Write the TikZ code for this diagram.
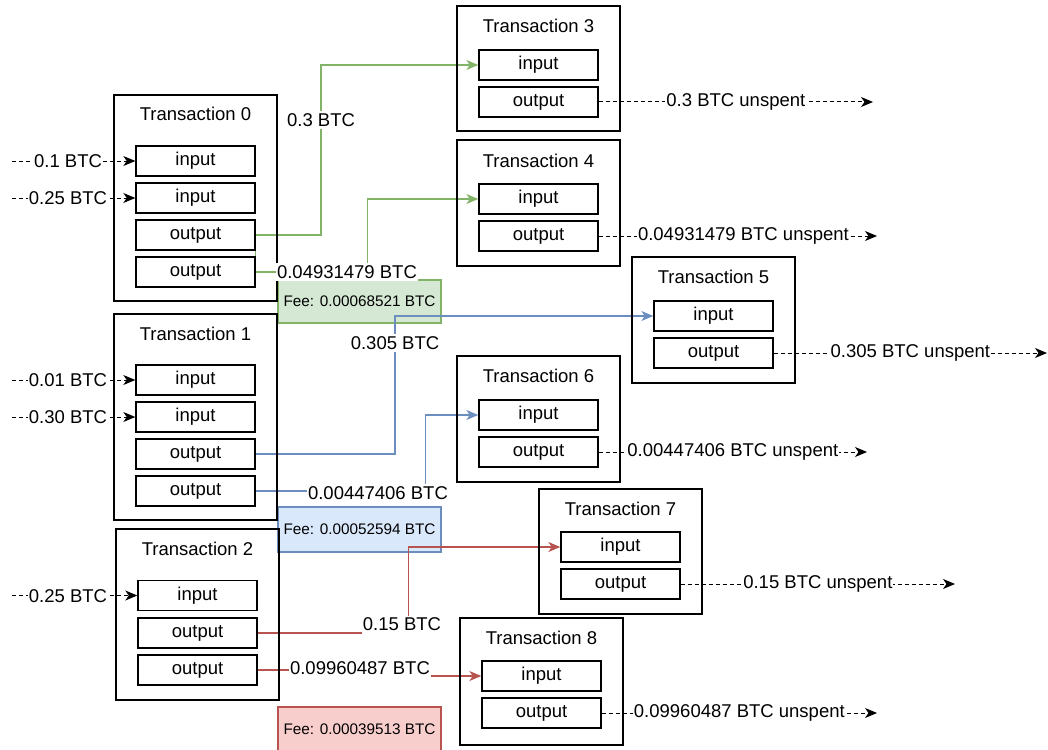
\documentclass[tikz,border=0pt]{standalone}
\usepackage{fontspec}
\setmainfont{Liberation Sans}
\usetikzlibrary{arrows.meta}
\definecolor{gedge}{HTML}{82B366}
\definecolor{gfill}{HTML}{D5E8D4}
\definecolor{bedge}{HTML}{6C8EBF}
\definecolor{bfill}{HTML}{DAE8FC}
\definecolor{redge}{HTML}{B85450}
\definecolor{rfill}{HTML}{F8CECC}
\pgfdeclarelayer{fees}
\pgfdeclarelayer{links}
\pgfsetlayers{fees,links,main}

\begin{document}
\begin{tikzpicture}[x=1pt,y=-1pt,
  every node/.style={font=\fontsize{18.5}{21}\selectfont, inner sep=0pt},
  txbox/.style={draw, line width=1.4pt, minimum width=163pt},
  slot/.style={draw, line width=1.4pt, minimum width=119pt, minimum height=30pt},
  feebox/.style={draw, line width=1.2pt, minimum width=163pt, font=\fontsize{15.3}{17}\selectfont},
  elabel/.style={fill=white, inner xsep=1pt, inner ysep=2pt},
  tip/.style={-{Stealth[length=12pt,width=10pt,inset=3.5pt]}},
  dline/.style={line width=1pt, dash pattern=on 4pt off 3pt, tip},
  gline/.style={draw=gedge, line width=1.3pt},
  bline/.style={draw=bedge, line width=1.3pt},
  rline/.style={draw=redge, line width=1.3pt},
]
\useasboundingbox (0,0) rectangle (1048,749);

% ---- Transaction 0
\node[txbox, minimum height=206pt] (t0) at (195.5,198) {};
\node (t0t) at (195.5,114) {Transaction 0};
\node[slot] (t0i1) at (195.5,161) {input};
\node[slot] (t0i2) at (195.5,198) {input};
\node[slot] (t0o1) at (195.5,235) {output};
\node[slot] (t0o2) at (195.5,272) {output};

% ---- Transaction 1
\node[txbox, minimum height=206pt] (t1) at (195.5,417) {};
\node (t1t) at (195.5,334) {Transaction 1};
\node[slot] (t1i1) at (195.5,380) {input};
\node[slot] (t1i2) at (195.5,417) {input};
\node[slot] (t1o1) at (195.5,454) {output};
\node[slot] (t1o2) at (195.5,491) {output};

% ---- Transaction 2
\node[txbox, minimum height=171pt] (t2) at (197.5,614.5) {};
\node (t2t) at (197.5,549) {Transaction 2};
\node[slot] (t2i) at (197.5,595.5) {input};
\node[slot] (t2o1) at (197.5,633) {output};
\node[slot] (t2o2) at (197.5,670) {output};

% ---- Transactions 3 to 8
\node[txbox, minimum height=125pt] (t3) at (538.5,68.5) {};
\node (t3t) at (538.5,26) {Transaction 3};
\node[slot] (t3i) at (538.5,65) {input};
\node[slot] (t3o) at (538.5,102) {output};

\node[txbox, minimum height=126pt] (t4) at (538.5,203) {};
\node (t4t) at (538.5,161) {Transaction 4};
\node[slot] (t4i) at (538.5,199) {input};
\node[slot] (t4o) at (538.5,236) {output};

\node[txbox, minimum height=126pt] (t5) at (713.5,320) {};
\node (t5t) at (713.5,277) {Transaction 5};
\node[slot] (t5i) at (713.5,316) {input};
\node[slot] (t5o) at (713.5,353) {output};

\node[txbox, minimum height=126pt] (t6) at (538.5,419) {};
\node (t6t) at (538.5,376) {Transaction 6};
\node[slot] (t6i) at (538.5,415) {input};
\node[slot] (t6o) at (538.5,452) {output};

\node[txbox, minimum height=125pt] (t7) at (620.5,551.5) {};
\node (t7t) at (620.5,509) {Transaction 7};
\node[slot] (t7i) at (620.5,547) {input};
\node[slot] (t7o) at (620.5,584) {output};

\node[txbox, minimum height=127pt] (t8) at (541.5,681.5) {};
\node (t8t) at (541.5,638) {Transaction 8};
\node[slot] (t8i) at (541.5,676) {input};
\node[slot] (t8o) at (541.5,713) {output};

% ---- fee boxes
\begin{pgfonlayer}{fees}
\node[feebox, draw=gedge, fill=gfill, minimum height=43pt] (f0) at (359.5,301.5) {Fee: 0.00068521 BTC};
\node[feebox, draw=bedge, fill=bfill, minimum height=45pt] (f1) at (359.5,529.5) {Fee: 0.00052594 BTC};
\node[feebox, draw=redge, fill=rfill, minimum height=45pt] (f2) at (359.5,729.5) {Fee: 0.00039513 BTC};
\end{pgfonlayer}

% ---- amount labels on the coloured links
\node[elabel] (l0a) at (321,120) {0.3 BTC};
\node[elabel] (l0b) at (347,272) {0.04931479 BTC};
\node[elabel] (l1a) at (395,343) {0.305 BTC};
\node[elabel] (l1b) at (378,493) {0.00447406 BTC};
\node[elabel, text depth=4pt] (l2a) at (402,626) {0.15 BTC};
\node[elabel] (l2b) at (360,668) {0.09960487 BTC};

% ---- amounts coming in from the left
\node[elabel] (a0a) at (68,161) {0.1 BTC};
\node[elabel] (a0b) at (68,198) {0.25 BTC};
\node[elabel] (a1a) at (68,380) {0.01 BTC};
\node[elabel] (a1b) at (68,417) {0.30 BTC};
\node[elabel] (a2a) at (68,596) {0.25 BTC};

\coordinate (s0a) at (12,161);
\coordinate (s0b) at (12,198);
\coordinate (s1a) at (12,380);
\coordinate (s1b) at (12,417);
\coordinate (s2a) at (12,595.5);

\coordinate (e3) at (873,102);
\coordinate (e4) at (877,236);
\coordinate (e5) at (1047,353);
\coordinate (e6) at (867,452);
\coordinate (e7) at (955,584);
\coordinate (e8) at (877,713);

\begin{pgfonlayer}{links}
% incoming
\draw[dline] (s0a) -- (t0i1.west);
\draw[dline] (s0b) -- (t0i2.west);
\draw[dline] (s1a) -- (t1i1.west);
\draw[dline] (s1b) -- (t1i2.west);
\draw[dline] (s2a) -- (t2i.west);

% transaction 0 outputs
\draw[gline, tip] (t0o1.east) -| (l0a.center) |- (t3i.west);
\draw[gline] (t0o1.east) -- (t0o2.east);
\draw[gline, tip] (t0o2.east) -- ++(112,0) |- (t4i.west);

% transaction 1 outputs
\draw[bline, tip] (t1o1.east) -| (l1a.center) |- (t5i.west);
\draw[bline, tip] (t1o2.east) -- ++(170,0) |- (t6i.west);

% transaction 2 outputs
\draw[rline, tip] (t2o1.east) -- ++(151,0) |- (t7i.west);
\draw[rline, tip] (t2o2.east) -- ++(163,0) -- ++(0,6) -- (t8i.west);

% unspent outputs
\draw[dline] (t3o.east) -- (e3) node[midway, elabel] (u3) {0.3 BTC unspent};
\draw[dline] (t4o.east) -- (e4) node[pos=0.52, elabel] (u4) {0.04931479 BTC unspent};
\draw[dline] (t5o.east) -- (e5) node[midway, elabel] (u5) {0.305 BTC unspent};
\draw[dline] (t6o.east) -- (e6) node[midway, elabel] (u6) {0.00447406 BTC unspent};
\draw[dline] (t7o.east) -- (e7) node[midway, elabel] (u7) {0.15 BTC unspent};
\draw[dline] (t8o.east) -- (e8) node[midway, elabel] (u8) {0.09960487 BTC unspent};
\end{pgfonlayer}
\end{tikzpicture}
\end{document}
